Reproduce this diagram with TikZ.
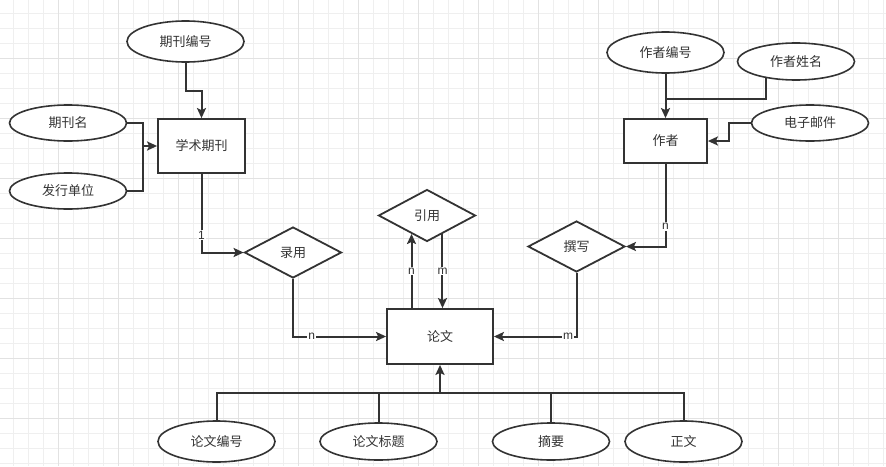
\documentclass[tikz,border=0pt]{standalone}
\usepackage{fontspec}
\setmainfont{Liberation Sans}
\newfontfamily\cjk{Noto Sans CJK SC}
\usetikzlibrary{shapes.geometric,arrows.meta}
\definecolor{xian}{HTML}{333333}
\definecolor{gexi}{HTML}{EFEFEF}
\definecolor{gecu}{HTML}{E2E2E2}
\newcommand{\zi}{\cjk\fontsize{13}{15}\selectfont}
\tikzset{
  shiti/.style={draw=xian, line width=1.8pt, fill=white, inner sep=0pt, font=\zi, text=xian},
  shuxing/.style={ellipse, draw=xian, line width=1.6pt, fill=white, inner sep=0pt,
    minimum width=117pt, minimum height=37pt, font=\zi, text=xian},
  lianxi/.style={diamond, draw=xian, line width=1.8pt, fill=white, inner sep=0pt, aspect=1.9,
    minimum width=97pt, minimum height=51pt, font=\zi, text=xian},
  lian/.style={draw=xian, line width=2pt},
  jian/.style={lian, -{Stealth[length=10pt, width=9pt, inset=2pt]}},
  biao/.style={fill=white, inner sep=1pt, text=xian, font=\fontsize{12}{13}\selectfont}
}

\begin{document}
\begin{tikzpicture}[x=1pt, y=-1pt]
  \useasboundingbox (0,0) rectangle (886,466);
  \fill[white] (0,0) rectangle (886,466);
  % grid
  \foreach \k in {0,...,58} \draw[gexi, line width=0.9pt] (13.3+15*\k,0) -- (13.3+15*\k,466);
  \foreach \k in {0,...,30} \draw[gexi, line width=0.9pt] (0,13.3+15*\k) -- (886,13.3+15*\k);
  \foreach \k in {0,...,14} \draw[gecu, line width=0.9pt] (58.3+60*\k,0) -- (58.3+60*\k,466);
  \foreach \k in {0,...,7} \draw[gecu, line width=0.9pt] (0,58.3+60*\k) -- (886,58.3+60*\k);

  % entities
  \node[shiti, minimum width=87pt, minimum height=54pt] (xsqk) at (201.5,146) {学术期刊};
  \node[shiti, minimum width=83pt, minimum height=44pt] (zuozhe) at (665.5,141) {作者};
  \node[shiti, minimum width=106pt, minimum height=55pt] (lunwen) at (440,336.5) {论文};

  % attributes
  \node[shuxing, minimum height=41pt] (qkbh) at (185.5,41.5) {期刊编号};
  \node[shuxing, minimum height=36pt] (qkm) at (68,123) {期刊名};
  \node[shuxing, minimum height=36pt] (fxdw) at (68,191) {发行单位};
  \node[shuxing, minimum height=41pt] (zzbh) at (665.5,52.5) {作者编号};
  \node[shuxing] (zzxm) at (796,61.5) {作者姓名};
  \node[shuxing, minimum height=36pt] (dzyj) at (810,123) {电子邮件};
  \node[shuxing, minimum height=41pt] (lwbh) at (216.5,441.5) {论文编号};
  \node[shuxing] (lwbt) at (378.5,441.5) {论文标题};
  \node[shuxing] (zhaiyao) at (551,441.5) {摘要};
  \node[shuxing, minimum height=41pt] (zhengwen) at (683.5,441.5) {正文};

  % relationships
  \node[lianxi] (luyong) at (293,252.5) {录用};
  \node[lianxi, minimum height=52pt] (yinyong) at (427,215.5) {引用};
  \node[lianxi] (zhuanxie) at (576.5,246.5) {撰写};

  \coordinate (qkj) at (143,146);
  \coordinate (zzj) at (665.5,99);
  \coordinate (yjj) at (729,141);
  \coordinate (lwj) at (440,393);

  % journal side
  \draw[jian] (qkbh.south) -- ++(0,28.5) -| (xsqk.north);
  \draw[jian] (qkm.east) -| (qkj) -- (xsqk.west);
  \draw[lian] (fxdw.east) -| (qkj);
  \draw[jian] (xsqk.south) |- (luyong.west) node[biao, pos=0.39] {1};
  \draw[jian] (luyong.south) |- (lunwen.west) node[biao, pos=0.6] {n};

  % citation
  \draw[jian] (lunwen.north -| yinyong.230) -- (yinyong.230) node[biao, midway] {n};
  \draw[jian] (yinyong.310) -- (yinyong.310 |- lunwen.north) node[biao, midway] {m};

  % author side
  \draw[jian] (zzbh.south) -- (zuozhe.north);
  \draw[lian] (zzxm.209) |- (zzj);
  \draw[jian] (dzyj.west) -| (yjj) -- (zuozhe.east);
  \draw[jian] (zuozhe.south) |- (zhuanxie.east) node[biao, pos=0.38] {n};
  \draw[jian] (zhuanxie.south) |- (lunwen.east) node[biao, pos=0.55] {m};

  % paper attributes
  \draw[lian] (lwbh.north) |- (lwj) -| (zhengwen.north);
  \draw[lian] (lwbt.north) |- (lwj);
  \draw[lian] (zhaiyao.north) |- (lwj);
  \draw[jian] (lwj) -- (lunwen.south);
\end{tikzpicture}
\end{document}
